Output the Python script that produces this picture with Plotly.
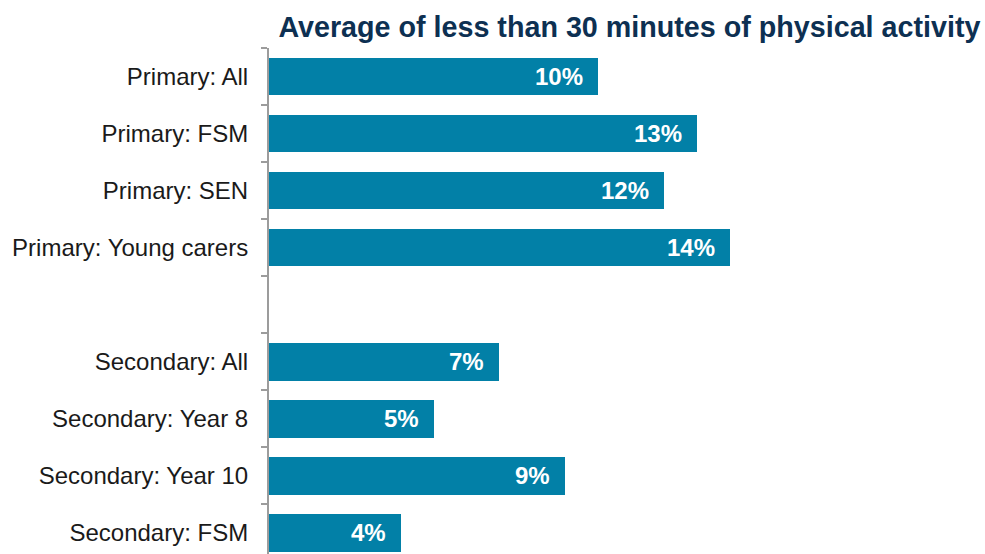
import plotly.graph_objects as go

# Share of pupils averaging less than 30 minutes of physical activity
categories = [
    "Primary: All",
    "Primary: FSM",
    "Primary: SEN",
    "Primary: Young carers",
    " ",
    "Secondary: All",
    "Secondary: Year 8",
    "Secondary: Year 10",
    "Secondary: FSM",
]
values = [10, 13, 12, 14, None, 7, 5, 9, 4]
title_text = "Average of less than 30 minutes of physical activity"

BAR_COLOR = "#0280a7"
FONT = "Liberation Sans, Arial, sans-serif"

fig = go.Figure()
fig.add_trace(go.Bar(
    x=values,
    y=categories,
    orientation="h",
    marker=dict(color=BAR_COLOR, line=dict(width=0)),
    width=0.66,
    hoverinfo="skip",
))

# Value labels inside the bar ends
for cat, v in zip(categories, values):
    if v is None:
        continue
    fig.add_annotation(
        x=v, y=cat, xref="x", yref="y",
        text=f"<b>{v}%</b>",
        showarrow=False,
        xanchor="right", xshift=-13,
        font=dict(family=FONT, size=24, color="white"),
    )

fig.update_layout(
    width=985, height=554,
    margin=dict(l=269, r=0, t=48, b=0),
    paper_bgcolor="white",
    plot_bgcolor="white",
    showlegend=False,
    bargap=0,
    title=dict(
        text=f"<b>{title_text}</b>",
        x=0.639, xanchor="center",
        y=0.952, yanchor="middle",
        font=dict(family=FONT, size=28.7, color="#0d3052"),
    ),
    xaxis=dict(
        range=[0, 21.76],
        visible=False,
        fixedrange=True,
    ),
    yaxis=dict(
        type="category",
        categoryorder="array",
        categoryarray=categories,
        range=[8.37, -0.5],
        showline=True,
        linecolor="#9c9c9c",
        linewidth=2,
        ticks="outside",
        tickson="boundaries",
        ticklen=6,
        tickwidth=2,
        tickcolor="#9c9c9c",
        showgrid=False,
        ticklabelstandoff=14,
        tickfont=dict(family=FONT, size=24, color="#1a1a1a"),
    ),
)

fig.write_html("out.html")
